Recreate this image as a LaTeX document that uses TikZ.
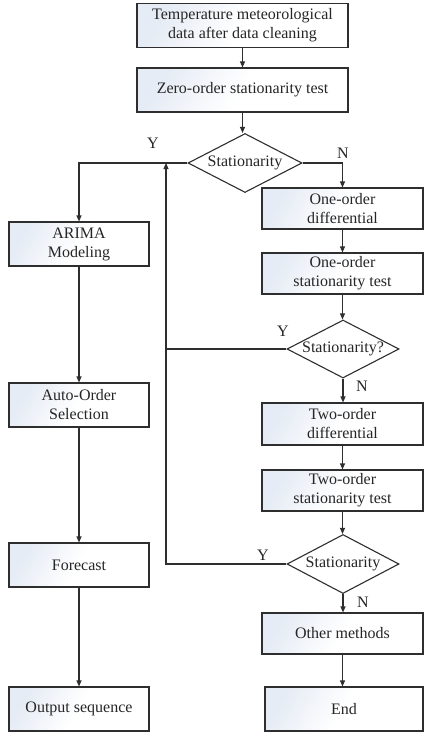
\documentclass[tikz,border=0pt]{standalone}
\usepackage{fontspec}
\setmainfont{Liberation Serif}
\usetikzlibrary{shapes.geometric,arrows.meta}
\definecolor{ln}{HTML}{2E2E2E}
\definecolor{gb}{HTML}{E6ECF5}
\tikzset{
  txt/.style={font=\fontsize{16}{19}\selectfont, text=black!85},
  box/.style={txt, draw=ln, line width=1.1pt, top color=gb, bottom color=white, middle color=white, shading angle=60,
    minimum width=140pt, minimum height=44pt, inner sep=0pt, align=center},
  wbox/.style={box, minimum width=161pt, minimum height=41pt},
  tbox/.style={box, minimum width=211pt, minimum height=44pt},
  dia/.style={diamond, draw=ln, line width=1.1pt, fill=white, inner sep=0pt, aspect=2},
  arr/.style={draw=ln, line width=1.1pt, -{Triangle[length=6pt,width=5pt]}},
  ln/.style={draw=ln, line width=1.1pt},
  lab/.style={txt, inner sep=0pt}
}
\begin{document}
\begin{tikzpicture}[x=1pt,y=-1pt]
\useasboundingbox (0,0) rectangle (424,733);
% top column
\node[tbox] (t1) at (242.5,25.5) {Temperature meteorological\\data after data cleaning};
\node[tbox] (t2) at (242.5,90) {Zero-order stationarity test};
\node[dia, minimum width=114pt, minimum height=59pt] (d1) at (245,163) {};
\node[lab] (d1t) at (d1) {Stationarity};
% left column
\node[box] (ar) at (79,244) {ARIMA\\Modeling};
\node[box] (ao) at (79,405) {Auto-Order\\Selection};
\node[box] (fc) at (79,565) {Forecast};
\node[box] (os) at (79,709) {Output sequence};
% right column
\node[wbox] (od) at (342.5,208.5) {One-order\\differential};
\node[wbox] (ot) at (342.5,273.5) {One-order\\stationarity test};
\node[dia, minimum width=112pt, minimum height=58pt] (d2) at (343,349) {};
\node[lab] (d2t) at (d2) {Stationarity?};
\node[wbox, minimum height=42pt] (td) at (342.5,424) {Two-order\\differential};
\node[wbox] (tt) at (342.5,490.5) {Two-order\\stationarity test};
\node[dia, minimum width=112pt, minimum height=59pt] (d3) at (343,564) {};
\node[lab] (d3t) at (d3) {Stationarity};
\node[wbox] (om) at (342.5,633.5) {Other methods};
\node[box, minimum width=158pt] (en) at (344,709) {End};
% junction coordinates
\coordinate (j1) at (166,163);
\coordinate (j3) at (166,564);
% connectors
\draw[arr] (t1) -- (t2);
\draw[arr] (t2.south) -- (t2.south |- d1.north);
\draw[arr] (d1.west) -| (ar.north);
\draw[arr] (d1.east) -| (od.north);
\draw[arr] (od) -- (ot);
\draw[arr] (ot.south) -- (ot.south |- d2.north);
\draw[ln] (d2.west) -- (d2.west -| j1);
\draw[arr] (d2.south) -- (d2.south |- td.north);
\draw[arr] (td) -- (tt);
\draw[arr] (tt.south) -- (tt.south |- d3.north);
\draw[arr] (d3.south) -- (d3.south |- om.north);
\draw[arr] (om.south) -- (om.south |- en.north);
\draw[arr] (d3.west) -- (j3) -- (j1);
\draw[arr] (ar) -- (ao);
\draw[arr] (ao) -- (fc);
\draw[arr] (fc) -- (os);
% labels
\node[lab] (y1) at (153,143) {Y};
\node[lab] (n1) at (343,153) {N};
\node[lab] (y2) at (283,331) {Y};
\node[lab] (n2) at (362,386) {N};
\node[lab] (y3) at (263,555) {Y};
\node[lab] (n3) at (363,602) {N};
\end{tikzpicture}
\end{document}
